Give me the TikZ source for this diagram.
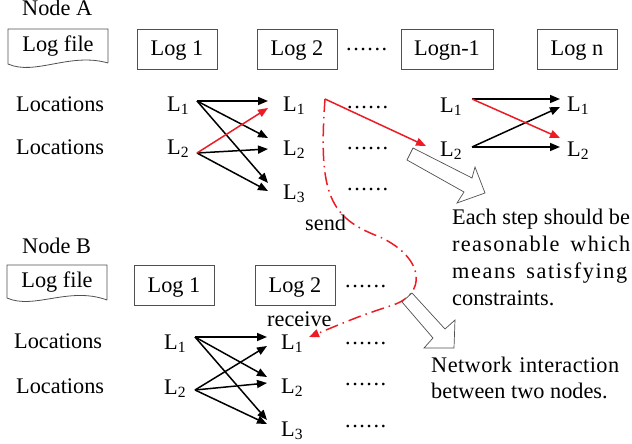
\documentclass[tikz,border=0pt]{standalone}
\usepackage{fontspec}
\setmainfont{Liberation Serif}
\usetikzlibrary{arrows.meta,calc}
\definecolor{myred}{RGB}{237,28,36}
\definecolor{boxgray}{RGB}{80,80,80}
\newcommand{\sixdots}{\hbox to 41pt{.\hfill.\hfill.\hfill.\hfill.\hfill.}}
\begin{document}
\begin{tikzpicture}[x=1pt,y=-1pt,
  txt/.style={font=\fontsize{22.3}{27}\selectfont, inner sep=0pt, text=black},
  lnode/.style={txt, anchor=base west},
  logbox/.style={draw=boxgray, line width=0.8pt, minimum width=80pt, minimum height=40pt, txt, text height=18pt, text depth=4pt},
  blk/.style={line width=1.5pt, -{Triangle[length=10pt,width=8pt]}},
  redl/.style={blk, myred},
  reddash/.style={myred, line width=1.5pt, dash pattern=on 13pt off 5pt on 1.5pt off 5pt, -{Triangle[length=10pt,width=8pt]}},
  hollow/.style={draw=boxgray, line width=0.7pt, fill=white, line join=miter},
  shapeline/.style={draw=boxgray, line width=0.8pt}
]
\useasboundingbox (0,0) rectangle (632,444);

% ---------------- Node A ----------------
\node[lnode] (nodeA) at (22,16) {Node A};
\node[txt, anchor=base] (lfA) at (58,52) {Log file};
\draw[shapeline] (108,63) -- (108,29) -- (8,29) -- (8,64) .. controls (35,76) and (70,52) .. (108,63);
\node[logbox] (A1) at (177,49) {Log 1};
\node[logbox] (A2) at (297,49) {Log 2};
\node[lnode] (Ad0) at (346,51) {\sixdots};
\node[logbox, minimum width=92pt] (An1) at (447,49) {Logn-1};
\node[logbox] (An) at (577,49) {Log n};

\node[lnode] (locA1) at (16,111) {Locations};
\node[lnode] (locA2) at (16,154) {Locations};

\node[lnode] (AL1) at (167,111) {L\textsubscript{1}};
\node[lnode] (AL2) at (167,154) {L\textsubscript{2}};
\node[lnode] (AR1) at (283,111) {L\textsubscript{1}};
\node[lnode] (AR2) at (283,155) {L\textsubscript{2}};
\node[lnode] (AR3) at (283,199) {L\textsubscript{3}};

\node[lnode] (Ad1) at (347,108) {\sixdots};
\node[lnode] (Ad2) at (347,149) {\sixdots};
\node[lnode] (Ad3) at (347,190) {\sixdots};

\node[lnode] (CL1) at (440,112) {L\textsubscript{1}};
\node[lnode] (CL2) at (440,156) {L\textsubscript{2}};
\node[lnode] (CR1) at (567,111) {L\textsubscript{1}};
\node[lnode] (CR2) at (567,156) {L\textsubscript{2}};

% ports A
\coordinate (a1o) at (197,101);
\coordinate (a2o) at (197,153);
\coordinate (r1a) at (268,101);
\coordinate (r1b) at (268,108);
\coordinate (r2a) at (268,138);
\coordinate (r2b) at (268,149);
\coordinate (r3a) at (268,183);
\coordinate (r3b) at (268,191);
\coordinate (sendpt) at (325,99);
\coordinate (c2in) at (426,146);
\coordinate (c1o) at (472,99);
\coordinate (c2o) at (472,147);
\coordinate (d1a) at (560,99);
\coordinate (d1b) at (560,107);
\coordinate (d2a) at (560,138);
\coordinate (d2b) at (560,147);

\draw[blk] (a1o) -- (r1a);
\draw[blk] (a1o) -- (r2a);
\draw[blk] (a1o) -- (r3a);
\draw[blk] (a2o) -- (r2b);
\draw[blk] (a2o) -- (r3b);
\draw[redl] (a2o) -- (r1b);

\draw[redl] (sendpt) -- (c2in);

\draw[blk] (c1o) -- (d1a);
\draw[blk] (c2o) -- (d1b);
\draw[blk] (c2o) -- (d2b);
\draw[redl] (c1o) -- (d2a);

% ---------------- Node B ----------------
\node[lnode] (nodeB) at (22,253) {Node B};
\node[txt, anchor=base] (lfB) at (57,287) {Log file};
\draw[shapeline] (107,300) -- (107,265) -- (7,265) -- (7,298) .. controls (34,310) and (69,286) .. (107,300);
\node[logbox] (B1) at (174,285) {Log 1};
\node[logbox] (B2) at (295,285) {Log 2};
\node[lnode] (Bd0) at (345,287) {\sixdots};

\node[lnode] (locB1) at (14,348) {Locations};
\node[lnode] (locB2) at (16,393) {Locations};

\node[lnode] (BL1) at (164,349) {L\textsubscript{1}};
\node[lnode] (BL2) at (164,394) {L\textsubscript{2}};
\node[lnode] (BR1) at (281,349) {L\textsubscript{1}};
\node[lnode] (BR2) at (281,393) {L\textsubscript{2}};
\node[lnode] (BR3) at (281,436) {L\textsubscript{3}};

\node[lnode] (Bd1) at (345,344) {\sixdots};
\node[lnode] (Bd2) at (345,385) {\sixdots};
\node[lnode] (Bd3) at (345,427) {\sixdots};

\node[lnode] (sendlbl) at (305,230) {send};
\node[lnode] (recvlbl) at (267,326) {receive};

% ports B
\coordinate (b1o) at (195,337);
\coordinate (b2o) at (195,390);
\coordinate (s1a) at (267,337);
\coordinate (s1b) at (267,346);
\coordinate (s2a) at (267,377);
\coordinate (s2b) at (267,383);
\coordinate (s3a) at (267,420);
\coordinate (s3b) at (267,424);
\coordinate (recvpt) at (309,337);

\draw[blk] (b1o) -- (s1a);
\draw[blk] (b1o) -- (s2a);
\draw[blk] (b1o) -- (s3a);
\draw[blk] (b2o) -- (s1b);
\draw[blk] (b2o) -- (s2b);
\draw[blk] (b2o) -- (s3b);

% network interaction curve
\draw[reddash] (sendpt) .. controls (318,195) and (330,218) .. (380,237)
  .. controls (425,258) and (428,295) .. (390,306)
  .. controls (360,316) .. (recvpt);

% hollow arrows
\draw[hollow] (413,148) -- (472,178) -- (475,167) -- (485,193) -- (457,203) -- (464,192) -- (407,160) -- cycle;
\draw[hollow] (412,293) -- (445,329) -- (455,320) -- (454,348) -- (424,348) -- (433,338) -- (402,302) -- cycle;

% notes
\node[lnode] (p1) at (452,224) {Each step should be};
\node[lnode] (p2) at (452,251) {\makebox[178pt][s]{\addfontfeature{LetterSpace=6}reasonable which}};
\node[lnode] (p3) at (452,278) {\makebox[175pt][s]{\addfontfeature{LetterSpace=7}means satisfying}};
\node[lnode] (p4) at (452,305) {constraints.};

\node[lnode] (n1) at (431,372) {\makebox[188pt][s]{\addfontfeature{LetterSpace=2}Network interaction}};
\node[lnode] (n2) at (431,398) {between two nodes.};
\end{tikzpicture}
\end{document}
